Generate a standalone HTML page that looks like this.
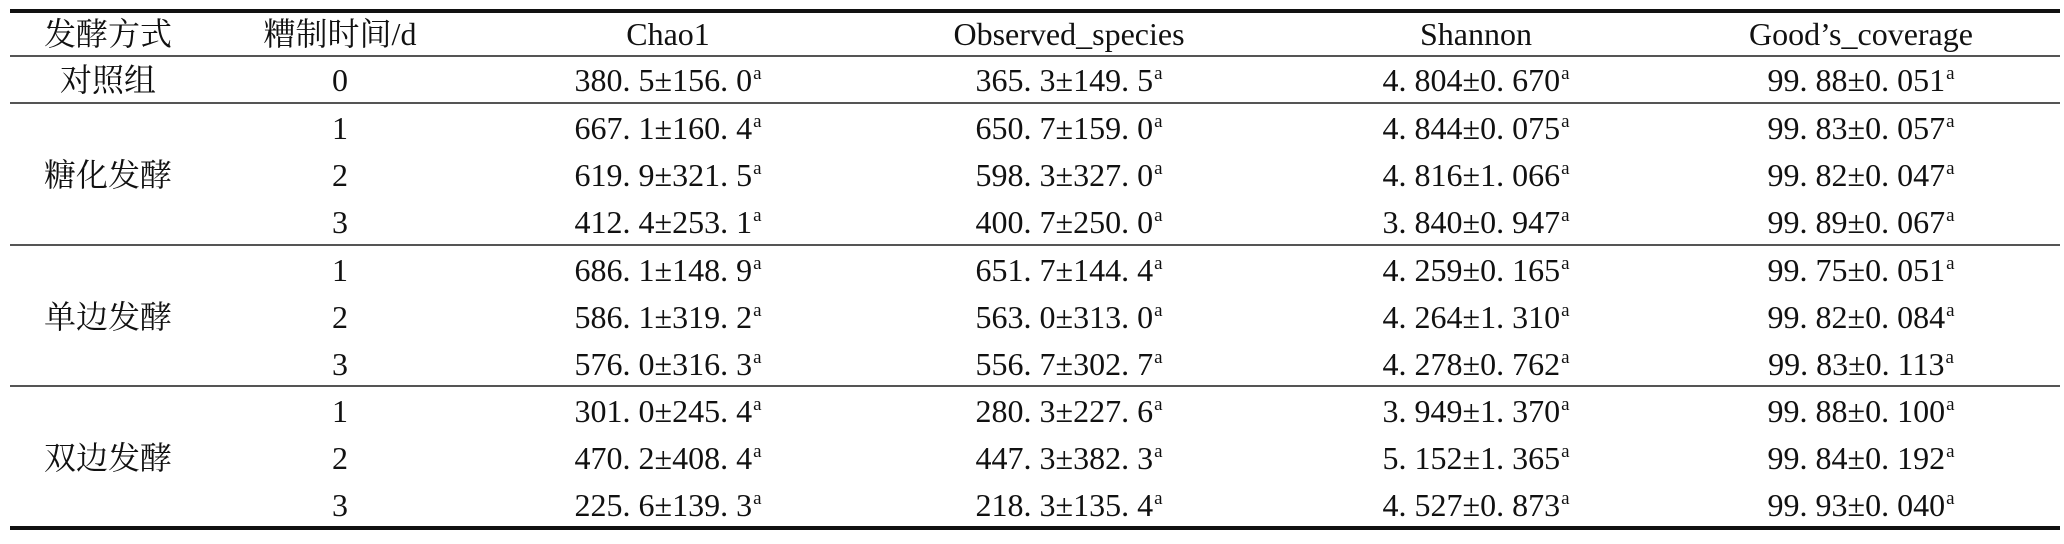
<!DOCTYPE html>
<html><head><meta charset="utf-8"><style>
body{margin:0;width:2064px;height:544px;background:#fff;position:relative;overflow:hidden;font-family:"Liberation Serif","Noto Serif CJK SC",serif;color:#111}
.l{position:absolute;left:10px;width:2050px;background:#333}
.t{position:absolute;white-space:pre;font-size:32px;line-height:1;transform:translate(-50%,-50%)}
.c{position:absolute;white-space:pre;font-size:32px;line-height:1;font-family:"Liberation Serif","Noto Serif CJK SC",serif;transform:translate(-50%,-50%)}
sup{font-size:19px;vertical-align:0;position:relative;top:-12px;margin-left:1px}
</style></head><body>
<div class="l" style="top:9px;height:4px;background:#111"></div>
<div class="l" style="top:55px;height:2px;background:#555"></div>
<div class="l" style="top:102px;height:2px;background:#555"></div>
<div class="l" style="top:244px;height:2px;background:#555"></div>
<div class="l" style="top:385px;height:2px;background:#555"></div>
<div class="l" style="top:526px;height:4px;background:#111"></div>

<div class="c" style="left:108px;top:34px">发酵方式</div>
<div class="c" style="left:340px;top:34px">糟制时间/d</div>
<div class="t" style="left:668px;top:34px">Chao1</div>
<div class="t" style="left:1069px;top:34px">Observed_species</div>
<div class="t" style="left:1476px;top:34px">Shannon</div>
<div class="t" style="left:1861px;top:34px">Good’s_coverage</div>

<div class="c" style="left:108px;top:80px">对照组</div>
<div class="c" style="left:108px;top:175px">糖化发酵</div>
<div class="c" style="left:108px;top:317px">单边发酵</div>
<div class="c" style="left:108px;top:458px">双边发酵</div>

<div class="t" style="left:340px;top:80px">0</div>
<div class="t" style="left:340px;top:128px">1</div><div class="t" style="left:340px;top:175px">2</div><div class="t" style="left:340px;top:222px">3</div>
<div class="t" style="left:340px;top:270px">1</div><div class="t" style="left:340px;top:317px">2</div><div class="t" style="left:340px;top:364px">3</div>
<div class="t" style="left:340px;top:411px">1</div><div class="t" style="left:340px;top:458px">2</div><div class="t" style="left:340px;top:505px">3</div>

<div class="t" style="left:668px;top:80px">380. 5±156. 0<sup>a</sup></div>
<div class="t" style="left:1069px;top:80px">365. 3±149. 5<sup>a</sup></div>
<div class="t" style="left:1476px;top:80px">4. 804±0. 670<sup>a</sup></div>
<div class="t" style="left:1861px;top:80px">99. 88±0. 051<sup>a</sup></div>

<div class="t" style="left:668px;top:128px">667. 1±160. 4<sup>a</sup></div>
<div class="t" style="left:1069px;top:128px">650. 7±159. 0<sup>a</sup></div>
<div class="t" style="left:1476px;top:128px">4. 844±0. 075<sup>a</sup></div>
<div class="t" style="left:1861px;top:128px">99. 83±0. 057<sup>a</sup></div>

<div class="t" style="left:668px;top:175px">619. 9±321. 5<sup>a</sup></div>
<div class="t" style="left:1069px;top:175px">598. 3±327. 0<sup>a</sup></div>
<div class="t" style="left:1476px;top:175px">4. 816±1. 066<sup>a</sup></div>
<div class="t" style="left:1861px;top:175px">99. 82±0. 047<sup>a</sup></div>

<div class="t" style="left:668px;top:222px">412. 4±253. 1<sup>a</sup></div>
<div class="t" style="left:1069px;top:222px">400. 7±250. 0<sup>a</sup></div>
<div class="t" style="left:1476px;top:222px">3. 840±0. 947<sup>a</sup></div>
<div class="t" style="left:1861px;top:222px">99. 89±0. 067<sup>a</sup></div>

<div class="t" style="left:668px;top:270px">686. 1±148. 9<sup>a</sup></div>
<div class="t" style="left:1069px;top:270px">651. 7±144. 4<sup>a</sup></div>
<div class="t" style="left:1476px;top:270px">4. 259±0. 165<sup>a</sup></div>
<div class="t" style="left:1861px;top:270px">99. 75±0. 051<sup>a</sup></div>

<div class="t" style="left:668px;top:317px">586. 1±319. 2<sup>a</sup></div>
<div class="t" style="left:1069px;top:317px">563. 0±313. 0<sup>a</sup></div>
<div class="t" style="left:1476px;top:317px">4. 264±1. 310<sup>a</sup></div>
<div class="t" style="left:1861px;top:317px">99. 82±0. 084<sup>a</sup></div>

<div class="t" style="left:668px;top:364px">576. 0±316. 3<sup>a</sup></div>
<div class="t" style="left:1069px;top:364px">556. 7±302. 7<sup>a</sup></div>
<div class="t" style="left:1476px;top:364px">4. 278±0. 762<sup>a</sup></div>
<div class="t" style="left:1861px;top:364px">99. 83±0. 113<sup>a</sup></div>

<div class="t" style="left:668px;top:411px">301. 0±245. 4<sup>a</sup></div>
<div class="t" style="left:1069px;top:411px">280. 3±227. 6<sup>a</sup></div>
<div class="t" style="left:1476px;top:411px">3. 949±1. 370<sup>a</sup></div>
<div class="t" style="left:1861px;top:411px">99. 88±0. 100<sup>a</sup></div>

<div class="t" style="left:668px;top:458px">470. 2±408. 4<sup>a</sup></div>
<div class="t" style="left:1069px;top:458px">447. 3±382. 3<sup>a</sup></div>
<div class="t" style="left:1476px;top:458px">5. 152±1. 365<sup>a</sup></div>
<div class="t" style="left:1861px;top:458px">99. 84±0. 192<sup>a</sup></div>

<div class="t" style="left:668px;top:505px">225. 6±139. 3<sup>a</sup></div>
<div class="t" style="left:1069px;top:505px">218. 3±135. 4<sup>a</sup></div>
<div class="t" style="left:1476px;top:505px">4. 527±0. 873<sup>a</sup></div>
<div class="t" style="left:1861px;top:505px">99. 93±0. 040<sup>a</sup></div>
</body></html>
